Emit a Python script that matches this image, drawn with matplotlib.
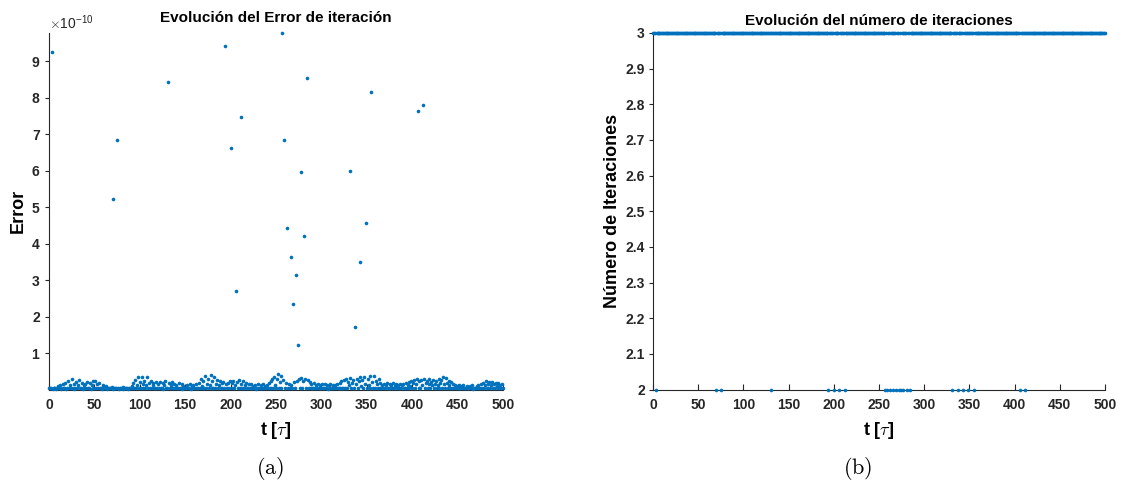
import numpy as np
import matplotlib
matplotlib.use("Agg")
import matplotlib.pyplot as plt
from matplotlib.ticker import ScalarFormatter, FuncFormatter

# ---------------- data ----------------
t_start, t_end = 0, 500
# iteration error (units of 1e-10), one value per time step t = 0..500
error_e10 = [
    0.04,0.03,0.04,9.24,0.02,0.05,0.03,0.04,0.02,0.04,
    0.09,0.03,0.12,0.02,0.04,0.15,0.03,0.05,0.18,0.02,
    0.03,0.22,0.04,0.11,0.03,0.28,0.03,0.16,0.02,0.04,
    0.20,0.03,0.13,0.25,0.04,0.03,0.18,0.02,0.11,0.03,
    0.15,0.03,0.21,0.04,0.03,0.17,0.02,0.12,0.04,0.22,
    0.04,0.24,0.03,0.14,0.03,0.19,0.05,0.03,0.02,0.07,
    0.12,0.03,0.04,0.09,0.02,0.04,0.03,0.03,0.04,0.06,
    5.22,0.02,0.04,0.03,0.05,6.85,0.04,0.02,0.04,0.03,
    0.04,0.06,0.02,0.04,0.03,0.03,0.05,0.02,0.04,0.03,
    0.04,0.10,0.03,0.18,0.04,0.26,0.04,0.12,0.33,0.03,
    0.20,0.04,0.35,0.03,0.15,0.24,0.03,0.11,0.34,0.04,
    0.18,0.03,0.22,0.03,0.12,0.19,0.04,0.03,0.21,0.03,
    0.14,0.04,0.20,0.04,0.03,0.17,0.02,0.13,0.22,0.03,
    0.04,8.43,0.18,0.04,0.11,0.20,0.03,0.04,0.16,0.03,
    0.12,0.03,0.04,0.18,0.04,0.03,0.14,0.02,0.10,0.03,
    0.04,0.03,0.13,0.03,0.04,0.15,0.02,0.09,0.04,0.11,
    0.03,0.03,0.14,0.04,0.04,0.19,0.03,0.30,0.10,0.03,
    0.24,0.04,0.38,0.04,0.16,0.28,0.03,0.12,0.40,0.04,
    0.22,0.03,0.33,0.04,0.15,0.26,0.03,0.11,0.24,0.03,
    0.18,0.04,0.21,0.04,9.42,0.14,0.03,0.19,0.04,0.23,
    6.62,0.03,0.17,0.24,0.04,0.12,2.69,0.20,0.03,0.25,
    0.03,0.15,7.47,0.04,0.22,0.04,0.11,0.18,0.03,0.04,
    0.14,0.03,0.04,0.16,0.03,0.10,0.04,0.13,0.02,0.03,
    0.15,0.04,0.03,0.12,0.03,0.04,0.14,0.03,0.10,0.03,
    0.12,0.04,0.18,0.04,0.22,0.03,0.28,0.04,0.35,0.12,
    0.03,0.30,0.42,0.04,0.20,0.38,0.03,9.77,0.25,6.83,
    0.04,0.18,4.42,0.04,0.15,0.03,3.64,0.12,0.03,2.33,
    0.20,0.03,3.14,0.24,1.23,0.28,0.04,5.97,0.32,0.03,
    0.22,4.20,0.30,0.04,8.53,0.26,0.03,0.20,0.04,0.15,
    0.04,0.03,0.18,0.03,0.12,0.04,0.15,0.03,0.03,0.11,
    0.04,0.14,0.03,0.04,0.16,0.03,0.12,0.02,0.10,0.04,
    0.15,0.04,0.03,0.13,0.03,0.11,0.04,0.16,0.04,0.03,
    0.18,0.03,0.22,0.04,0.03,0.26,0.04,0.30,0.03,0.20,
    0.12,5.98,0.32,0.04,0.18,0.25,0.04,1.72,0.14,0.28,
    0.03,0.22,0.33,3.50,0.10,0.26,0.03,0.35,0.16,4.56,
    0.04,0.30,0.12,0.04,0.37,8.15,0.20,0.03,0.36,0.04,
    0.24,0.14,0.03,0.30,0.04,0.18,0.04,0.13,0.03,0.16,
    0.03,0.11,0.17,0.04,0.03,0.14,0.03,0.12,0.04,0.18,
    0.04,0.10,0.15,0.03,0.13,0.03,0.04,0.16,0.03,0.11,
    0.14,0.03,0.04,0.17,0.03,0.12,0.20,0.04,0.10,0.23,
    0.03,0.18,0.27,0.04,0.14,0.30,7.64,0.04,0.22,0.03,
    0.26,0.12,7.80,0.29,0.04,0.18,0.24,0.03,0.15,0.28,
    0.03,0.20,0.11,0.25,0.04,0.16,0.22,0.04,0.13,0.30,
    0.03,0.19,0.26,0.04,0.33,0.14,0.04,0.31,0.18,0.03,
    0.24,0.11,0.03,0.20,0.04,0.15,0.04,0.12,0.03,0.10,
    0.03,0.04,0.12,0.03,0.09,0.04,0.11,0.03,0.03,0.04,
    0.10,0.04,0.03,0.03,0.09,0.04,0.11,0.02,0.03,0.04,
    0.04,0.09,0.03,0.12,0.03,0.04,0.14,0.04,0.18,0.03,
    0.11,0.22,0.04,0.16,0.03,0.20,0.04,0.13,0.21,0.03,
    0.15,0.04,0.19,0.10,0.04,0.17,0.03,0.12,0.04,0.14,
    0.04,
]
# time steps that converged in 2 iterations (all others took 3)
two_iter_times = [3, 70, 75, 131, 194, 200, 206, 212, 257, 259, 262, 266, 269,
                  272, 274, 277, 281, 284, 331, 337, 343, 349, 355, 406, 412]
iter_high, iter_low = 3, 2

x_ticks = list(range(0, 501, 50))
err_ticks_e10 = [1, 2, 3, 4, 5, 6, 7, 8, 9]
iter_ticks = [2.0, 2.1, 2.2, 2.3, 2.4, 2.5, 2.6, 2.7, 2.8, 2.9, 3.0]

title_a = "Evolución del Error de iteración"
title_b = "Evolución del número de iteraciones"
xlabel = r"t [$\tau$]"
ylabel_a = "Error"
ylabel_b = "Número de Iteraciones"

# ---------------- derived ----------------
t = np.arange(t_start, t_end + 1)
err = np.array(error_e10) * 1e-10
iters = np.array([iter_low if ti in two_iter_times else iter_high for ti in t])

# ---------------- style ----------------
plt.rcParams['font.family'] = ['Liberation Sans', 'DejaVu Sans']
plt.rcParams['mathtext.fontset'] = 'cm'
BLUE = '#0072BD'
DARK = '#262626'

fig = plt.figure(figsize=(11.23, 4.92), dpi=100)
axA = fig.add_axes([49/1123, 1-389.5/492, 454/1123, 356.5/492])
axB = fig.add_axes([653/1123, 1-389.5/492, 452/1123, 356.5/492])

def style(ax):
    for s in ('top', 'right'):
        ax.spines[s].set_visible(False)
    for s in ('left', 'bottom'):
        ax.spines[s].set_color(DARK)
        ax.spines[s].set_linewidth(0.8)
    ax.tick_params(axis='x', direction='in', length=4, width=0.8, colors=DARK,
                   labelsize=10, pad=6)
    ax.tick_params(axis='y', direction='out', length=3, width=0.8, colors=DARK,
                   labelsize=10, pad=3)
    ax.set_xlim(t_start, t_end)
    ax.set_xticks(x_ticks)
    for lab in ax.get_xticklabels() + ax.get_yticklabels():
        lab.set_fontweight('bold')

# (a)
axA.plot(t, err, linestyle='none', marker='o', ms=2.6, mew=0, color=BLUE,
         clip_on=False, zorder=3)
axA.set_ylim(0, 9.77e-10)
axA.set_yticks([v * 1e-10 for v in err_ticks_e10])
fmt = ScalarFormatter(useMathText=True)
fmt.set_powerlimits((0, 0))
axA.yaxis.set_major_formatter(fmt)
style(axA)
axA.yaxis.get_offset_text().set_fontsize(10)
axA.yaxis.get_offset_text().set_color(DARK)
axA.set_title(title_a, fontsize=11, fontweight='bold', pad=8)
axA.set_xlabel(xlabel, fontsize=13, fontweight='bold', labelpad=6)
axA.set_ylabel(ylabel_a, fontsize=13, fontweight='bold', labelpad=3)

# (b)
axB.plot(t, iters, linestyle='none', marker='o', ms=2.6, mew=0, color=BLUE,
         clip_on=False, zorder=3)
axB.set_ylim(iter_low, iter_high)
axB.set_yticks(iter_ticks)
axB.yaxis.set_major_formatter(FuncFormatter(lambda v, p: f"{v:g}"))
style(axB)
axB.set_title(title_b, fontsize=11, fontweight='bold', pad=6)
axB.set_xlabel(xlabel, fontsize=13, fontweight='bold', labelpad=6)
axB.set_ylabel(ylabel_b, fontsize=13, fontweight='bold', labelpad=3)

fig.text(270/1123, 1-469/492, r"$\mathrm{(a)}$", fontsize=16, ha='center', va='center')
fig.text(858/1123, 1-469/492, r"$\mathrm{(b)}$", fontsize=16, ha='center', va='center')

fig.savefig("out.png", dpi=100)
